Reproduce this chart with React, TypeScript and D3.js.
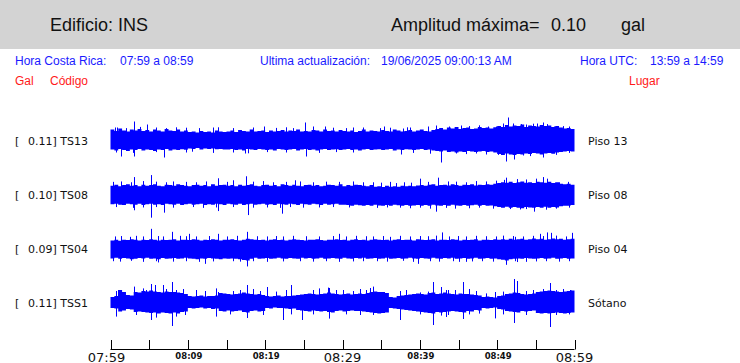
import React from "react";
import * as d3 from "d3";

// ---- time axis (minutes after 07:59) ----
const majorTickLabels = ["07:59", "08:29", "08:59"];
const minorTickLabels = ["08:09", "08:19", "08:39", "08:49"];
const tickMinutes = [0, 5, 10, 15, 20, 25, 30, 35, 40, 45, 50, 55, 60];
const labelMinutes = [0, 10, 20, 30, 40, 50, 60];

// ---- stations ----
const codes = ["TS13", "TS08", "TS04", "TSS1"];
const places = ["Piso 13", "Piso 08", "Piso 04", "Sótano"];
const maxAmps = ["0.11", "0.10", "0.09", "0.11"];

// ---- half-minute envelope of each trace (mgal) ----
const ts13Upper = [55,48,60,50,45,55,50,58,48,52,45,55,50,45,58,50,48,55,45,50, 42,45,40,48,42,45,40,50,45,42,
  45,50,42,52,48,45,55,45,48,50, 42,50,45,48,52,45,50,48,55,45, 48,45,52,50,45,55,48,50,45,52, 48,45,50,42,48,55,45,50,48,45, 52,48,45,55,50,45,48,52,45,50, 55,48,45,52,
  58,62,55,65,60,68,58,62,65,58,60,68,62,65,60,66, 72,68,78,70,75,72,80,68,75,72,70,78,72,75,68,72, 65,60,62,58];
const ts13Lower = [-45,-50,-42,-48,-52,-45,-48,-42,-50,-45,-48,-52,-45,-48,-42,-50,-45,-48,-44,-46, -40,-42,-38,-45,-40,-42,-40,-44,-42,-45,
  -45,-42,-48,-45,-50,-42,-45,-48,-42,-45, -48,-45,-50,-42,-45,-48,-45,-42,-50,-45, -42,-48,-45,-50,-45,-42,-48,-45,-44,-48, -45,-42,-48,-45,-50,-45,-42,-48,-45,-44, -48,-45,-42,-50,-45,-48,-44,-45,-48,-45, -42,-48,-45,-50,
  -52,-55,-50,-58,-55,-60,-55,-58,-52,-55,-58,-55,-52,-58,-55,-60, -68,-72,-65,-70,-72,-68,-70,-65,-68,-62,-65,-70,-65,-62,-66,-60, -58,-55,-52,-55];
const ts08Upper = [45,50,42,48,52,45,48,42,50,45, 48,52,45,42,50,48,45,52,48,45, 42,48,50,45,48,42,52,45,48,50, 45,48,42,50,45,48,52,45,42,48, 50,45,48,42,52,48,45,50,45,42, 48,50,45,48,42,45,50,48,45,52, 42,48,45,50,48,45,42,48,
  40,42,38,45,40,42,40,44,42,45,42,46,
  48,45,50,52,45,48,50,46,52,48,45,50,48,52,46,50,48,52,50,55,
  58,62,60,65,58,62,66,60,62,58,65,62,60,64,58,62, 55,52,55,50];
const ts08Lower = [-48,-45,-50,-52,-46,-48,-50,-45,-52,-48, -46,-50,-48,-52,-45,-48,-50,-46,-52,-48, -45,-50,-48,-46,-52,-48,-50,-45,-48,-52, -46,-48,-50,-45,-52,-48,-46,-50,-48,-45, -50,-48,-52,-46,-48,-50,-45,-48,-52,-46, -48,-50,-45,-48,-52,-46,-50,-48,-45,-50,
  -50,-52,-55,-50,-53,-56,-52,-55,-50,-54, -56,-52,-55,-50,-53,-56,-52,-55,-54,-52, -55,-52,-56,-50,-54,-56,-52,-55,-50,-54, -56,-52,-55,-53,-50,-56,-52,-55,-54,-58,
  -62,-65,-60,-66,-62,-65,-68,-62,-64,-66,-62,-65,-60,-66,-62,-64, -58,-55,-56,-52];
const ts04Upper = [42,45,40,46,44,48,45,42,46,44, 48,45,42,46,44,45,48,42,46,45, 44,48,45,42,46,44,48,45,42,46, 45,48,44,42,46,50,48,45,44,46, 42,45,48,44,46,42,45,48,46,44, 42,46,45,48,44,42,46,45,48,44,
  45,42,46,48,44,45,42,46,48,45, 44,46,42,45,48,44,46,45,42,48, 45,44,46,48,42,45,46,44,48,45, 42,46,44,45,48,42,46,45,44,48, 46,48,45,50,46,48,50,46,48,52, 48,50,46,48,52,48,50,46,48,50];
const ts04Lower = [-48,-45,-50,-46,-48,-52,-50,-46,-48,-45, -50,-48,-52,-46,-50,-48,-46,-50,-48,-45, -48,-50,-52,-48,-50,-46,-48,-50,-52,-48, -50,-48,-50,-52,-56,-58,-50,-45,-50,-48, -46,-50,-48,-45,-48,-50,-46,-48,-50,-45, -48,-46,-50,-48,-45,-50,-48,-46,-48,-50,
  -45,-48,-50,-46,-48,-45,-50,-48,-46,-50, -48,-45,-50,-48,-46,-50,-48,-45,-48,-50, -46,-48,-50,-45,-48,-50,-46,-48,-45,-50, -48,-46,-50,-48,-45,-50,-48,-46,-50,-48, -52,-55,-58,-52,-50,-48,-50,-46,-48,-50, -48,-46,-50,-48,-45,-50,-48,-46,-50,-48];
const tss1Upper = [30,35,65,55,40,38,55,52,60,58, 62,58,55,52,58,55,55,52,50,45, 35,32,35,38,32,35,35,38,50,48, 45,42,45,48,52,48,45,42,45,40,
  35,32,35,38,32,35,35,38,40,42, 45,48,45,42,45,48,52,48,45,42, 45,48,42,45,48,45,50,55,58,55, 55,50,30,28,35,38,40,42,45,48,
  45,42,50,52,45,48,52,48,45,42, 48,45,45,42,40,38,30,32,30,28, 35,38,45,48,52,50,45,42,45,48, 55,58,60,62,60,58,55,58,60,62];
const tss1Lower = [-25,-28,-42,-38,-30,-32,-45,-42,-45,-48, -50,-48,-52,-48,-50,-52,-48,-52,-45,-42, -25,-28,-25,-22,-28,-25,-30,-28,-40,-42, -38,-42,-40,-38,-45,-48,-40,-38,-42,-40,
  -25,-28,-22,-25,-25,-28,-30,-28,-35,-38, -40,-42,-38,-40,-42,-40,-45,-48,-40,-38, -42,-40,-38,-40,-40,-42,-45,-48,-50,-52, -50,-48,-25,-28,-30,-32,-35,-38,-40,-42,
  -45,-48,-50,-52,-45,-48,-45,-42,-40,-42, -45,-48,-40,-42,-35,-38,-25,-28,-25,-22, -30,-32,-40,-42,-45,-48,-40,-42,-40,-38, -50,-52,-50,-52,-50,-48,-50,-52,-50,-48];

// ---- large isolated peaks (minute, mgal) ----
const ts13PeakT = [0.8,1.4,3.1,3.1,4.7,6.9,13.3,17.4,19.9,25.1,25.3,26.2,27.7,31.3,35.4,37.6,38.7,42.1,42.8,43.8,47.3,48.8,49.9,50.7,51.2,51.4,52.2,53.7,55.2,55.9,55.9,57.4];
const ts13PeakA = [65,-80,95,-80,80,-85,65,-65,70,90,-80,70,70,65,70,-70,65,75,-110,70,-65,70,70,85,-105,115,-95,80,85,90,-85,70];
const ts08PeakT = [3.1,3.1,5.3,5.3,6.9,13.9,13.9,15.8,17.5,17.8,22.2,23.8,37.4,40,42.1,42.3,44.5,51.2,54.8,55.9,56.5];
const ts08PeakA = [88,-78,98,-115,-90,82,-82,72,92,-102,-95,72,-65,80,-85,85,-70,85,-85,88,80];
const ts04PeakT = [5.3,6.1,7.9,10.2,12.2,13.9,17.7,17.7,29.6,39.8,42.9,46,51.2,52.3,52.3,55.5,56.5,57,59.7];
const ts04PeakA = [100,-68,85,75,-75,75,85,-88,75,-75,82,-65,-80,60,-62,75,82,80,80];
const tss1PeakT = [1,5.3,5.3,7.9,7.9,13.9,17.6,17.7,20.2,22.3,23.4,24.7,28.3,28.3,33.6,37.4,37.4,41.7,41.7,42.8,43.4,43.4,45.6,45.6,49.7,52.2,52.2,52.5,56.8,56.8,59.4,59.6];
const tss1PeakA = [65,95,-85,105,-115,55,90,-75,80,-85,90,-85,75,-78,75,60,-85,105,-110,80,65,-70,105,-80,55,120,-100,110,100,-120,65,62];

// ---- smaller fringe peaks (minute, mgal) ----
const ts13MinorT = [0.56,2.06,3.79,5.94,7.23,8.53,9.82,11.5,13.9,15.8,18.4,21.4,22.7,23.6,28.8,30.5,32.6,
  34.8,36.1,37.8,38.4,41.0,45.3,46.4,47.7,52.0,53.1,54.6,56.5,58.5,59.3,
  0.77,2.92,5.94,9.82,10.5,13.3,15.8,17.8,20.2,22.7,27.0,29.2,31.3,
  39.1,41.3,44.7,46.0,48.6,50.1,53.3,54.2,57.6,59.3];
const ts13MinorA = [65,62,68,65,62,66,64,62,66,62,65,63,66,62,64,62,65,
  62,64,60,66,70,75,72,76,85,82,84,82,72,70,
  -60,-62,-58,-60,-56,-62,-60,-64,-58,-60,-62,-58,-60,
  -62,-66,-65,-68,-70,-72,-75,-78,-72,-62];
const ts08MinorT = [0.34,1.42,2.71,4.21,5.94,7.23,8.09,9.82,11.1,12.4,15.0,18.4,19.7,21.0,22.7,24.5,26.2,27.9,29.6,31.3,32.6,
  33.9,35.0,36.1,36.9,38.0,38.9,41.0,43.6,44.7,46.0,47.3,48.6,49.9,50.9,52.5,53.7,55.0,58.0,59.1,
  0.77,2.92,4.21,5.94,8.09,10.7,12.0,13.7,15.8,18.4,20.2,21.9,23.2,24.9,27.0,28.8,30.9,
  34.4,35.7,38.7,40.0,41.3,43.4,46.4,47.7,49.4,51.6,52.9,53.7,56.3,57.6,59.3];
const ts08MinorA = [64,66,62,68,65,62,66,64,62,66,64,65,68,62,64,66,62,65,64,66,62,
  62,60,64,58,62,60,64,66,65,62,68,66,70,74,78,76,80,62,64,
  -62,-66,-64,-62,-65,-62,-66,-64,-62,-65,-64,-66,-62,-65,-64,-62,-64,
  -66,-64,-68,-65,-70,-66,-68,-65,-70,-72,-74,-72,-75,-70,-65];
const ts04MinorT = [0.56,1.42,2.49,3.36,4.21,6.15,6.8,8.95,9.82,11.1,12.8,15.0,16.3,18.9,20.2,21.4,22.3,23.6,25.3,27.0,28.8,30.5,31.8,33.1,
  33.9,35.2,36.1,37.4,38.7,40.0,41.0,42.1,43.8,44.9,46.0,47.3,48.6,49.9,50.7,52.0,53.3,54.6,55.9,57.6,58.9,
  0.34,1.2,2.71,4.21,5.94,8.09,9.82,11.5,13.3,15.8,16.7,18.4,20.2,22.3,24.5,26.2,27.9,29.6,31.3,32.6,
  34.4,35.7,37.8,39.1,41.3,42.5,44.3,45.1,46.8,48.1,49.4,52.5,53.7,55.0,56.3,58.0,59.3];
const ts04MinorA = [62,64,60,65,62,64,62,65,63,62,64,62,65,63,62,64,62,65,63,62,64,62,65,63,
  62,64,60,65,62,64,63,66,62,64,62,65,63,62,66,64,62,65,64,66,62,
  -62,-64,-60,-65,-62,-64,-62,-65,-63,-62,-64,-62,-65,-63,-62,-64,-62,-65,-63,-62,
  -62,-64,-60,-65,-62,-64,-62,-65,-63,-62,-64,-66,-65,-63,-62,-64,-62];
const tss1MinorT = [0.77,3.1,4.21,4.65,5.72,6.8,7.23,8.53,9.38,11.1,12.2,13.7,15.8,16.7,18.4,19.3,21.4,22.7,26.2,27.0,28.1,29.2,30.1,31.3,32.2,33.1,
  33.9,35.0,38.2,40.0,41.0,43.6,44.5,46.4,47.3,48.6,50.7,53.7,54.6,55.9,57.6,58.5,
  0.77,3.36,5.94,8.53,9.6,13.7,15.4,19.7,23.4,26.2,30.5,32.2,
  33.9,40.0,42.8,43.6,46.4,47.7,49.7,50.7,53.7,57.6,59.3];
const tss1MinorA = [60,82,73,65,90,90,70,65,70,65,60,73,60,65,70,60,57,65,65,73,77,65,65,60,70,65,
  82,48,65,53,57,65,65,70,60,48,57,60,65,70,65,70,
  -68,-60,-73,-68,-60,-68,-57,-60,-57,-57,-57,-60,
  -60,-57,-63,-60,-57,-53,-77,-57,-60,-60,-57];

const uppers = [ts13Upper, ts08Upper, ts04Upper, tss1Upper];
const lowers = [ts13Lower, ts08Lower, ts04Lower, tss1Lower];
const peakTs = [ts13PeakT.concat(ts13MinorT), ts08PeakT.concat(ts08MinorT), ts04PeakT.concat(ts04MinorT), tss1PeakT.concat(tss1MinorT)];
const peakAs = [ts13PeakA.concat(ts13MinorA), ts08PeakA.concat(ts08MinorA), ts04PeakA.concat(ts04MinorA), tss1PeakA.concat(tss1MinorA)];

const W = 740;
const H = 363;
const BLUE = "#0000ff";

export default function App() {
  const x = d3.scaleLinear().domain([0, 60]).range([110.5, 574.5]);
  const rowY = d3.scalePoint<string>().domain(codes).range([140.5, 303]);
  const amp = d3.scaleLinear().domain([-120, 120]).range([24, -24]);

  const area = d3
    .area<number[]>()
    .x((d) => x(d[0]))
    .y0((d) => amp(d[2]))
    .y1((d) => amp(d[1]))
    .curve(d3.curveStepAfter);

  const fmtMajor = (m: number) => {
    const i = [0, 30, 60].indexOf(m);
    return i >= 0 ? majorTickLabels[i] : null;
  };
  const fmtMinor = (m: number) => {
    const i = [10, 20, 40, 50].indexOf(m);
    return i >= 0 ? minorTickLabels[i] : null;
  };

  return (
    <svg
      width={W}
      height={H}
      style={{ position: "absolute", left: 0, top: 0, background: "#fff" }}
      fontFamily="'Liberation Sans', Arial, sans-serif"
    >
      <rect x={0} y={0} width={W} height={49} fill="#d3d3d3" />
      <text x={50} y={30.5} fontSize={18} fill="#111">Edificio: INS</text>
      <text x={391} y={30.5} fontSize={18} fill="#111">Amplitud máxima=</text>
      <text x={551} y={30.5} fontSize={18} fill="#111">0.10</text>
      <text x={621} y={30.5} fontSize={18} fill="#111">gal</text>

      <g fontSize={12} fill="#1a1aff">
        <text x={15} y={65}>Hora Costa Rica:</text>
        <text x={120} y={65}>07:59 a 08:59</text>
        <text x={260} y={65}>Ultima actualización:</text>
        <text x={381} y={65}>19/06/2025 09:00:13 AM</text>
        <text x={580} y={65}>Hora UTC:</text>
        <text x={650} y={65}>13:59 a 14:59</text>
      </g>
      <g fontSize={12} fill="#ff1a1a">
        <text x={15} y={85}>Gal</text>
        <text x={50} y={85}>Código</text>
        <text x={629} y={85}>Lugar</text>
      </g>

      {codes.map((c, k) => {
        const cy = rowY(c) as number;
        const n = uppers[k].length;
        const pts = uppers[k].map((u, i) => [(i * 60) / n, u, lowers[k][i]]);
        pts.push([60, uppers[k][n - 1], lowers[k][n - 1]]);
        return (
          <g key={c}>
            <g fontFamily="'DejaVu Sans', sans-serif" fontSize={11} fill="#111">
              <text x={15} y={cy + 4}>[</text>
              <text x={28} y={cy + 4}>{maxAmps[k]}] {c}</text>
              <text x={588} y={cy + 4}>{places[k]}</text>
            </g>
            <g transform={`translate(0,${cy})`}>
              <path d={area(pts) || ""} fill={BLUE} />
              {peakTs[k].map((t, j) => (
                <line
                  key={j}
                  x1={Math.round(x(t)) + 0.5}
                  x2={Math.round(x(t)) + 0.5}
                  y1={amp(0)}
                  y2={amp(peakAs[k][j])}
                  stroke={BLUE}
                  strokeWidth={1}
                />
              ))}
            </g>
          </g>
        );
      })}

      <g>
        <line x1={x(0)} x2={x(60)} y1={349.5} y2={349.5} stroke="#000" />
        {tickMinutes.map((m) => (
          <line key={m} x1={Math.round(x(m)) + 0.5} x2={Math.round(x(m)) + 0.5} y1={340} y2={349.5} stroke="#000" />
        ))}
        {labelMinutes.map((m) => {
          const big = fmtMajor(m);
          const small = fmtMinor(m);
          return big ? (
            <text key={m} x={x(m) - (m === 0 ? 4 : 0)} y={362} fontSize={13} textAnchor="middle" fontFamily="'DejaVu Sans', sans-serif" fill="#111">{big}</text>
          ) : (
            <text key={m} x={x(m) + 1} y={358.5} fontSize={8.5} textAnchor="middle" fontFamily="'DejaVu Sans', sans-serif" fontWeight="bold" fill="#111">{small}</text>
          );
        })}
      </g>
    </svg>
  );
}
